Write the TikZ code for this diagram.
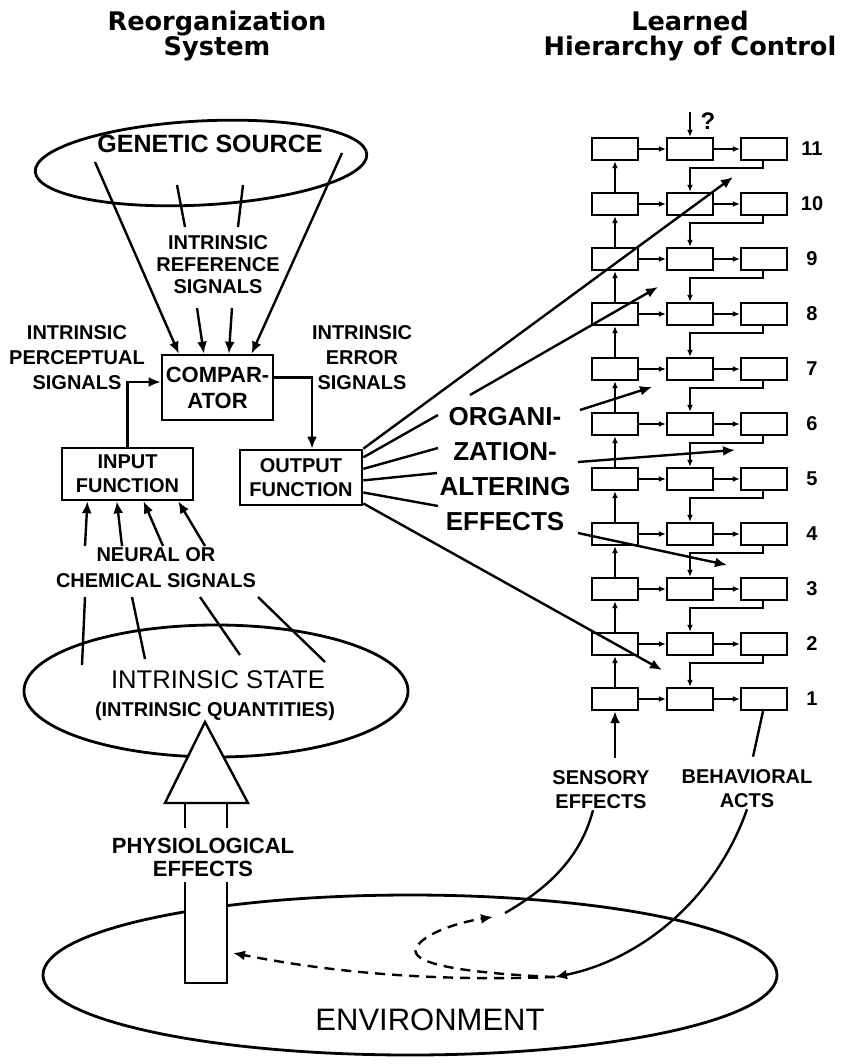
\documentclass[tikz,border=0pt]{standalone}
\usepackage{fontspec}
\setmainfont{Liberation Sans}
\newfontfamily\headfam{DejaVu Sans}
\usetikzlibrary{arrows.meta,shapes.geometric,calc}

\newcommand\labfont{\fontsize{10}{12}\selectfont\bfseries}
\newcommand\headfont{\headfam\fontsize{12.8}{12.8}\selectfont\bfseries}
\newcommand\genfont{\fontsize{12.5}{15}\selectfont\bfseries}
\newcommand\compfont{\fontsize{11}{13}\selectfont\bfseries}
\newcommand\orgfont{\fontsize{13}{17.5}\selectfont\bfseries}
\newcommand\statefont{\fontsize{12.8}{15}\selectfont}
\newcommand\envfont{\fontsize{15.5}{18}\selectfont}

\begin{document}
\begin{tikzpicture}[x=0.5pt,y=-0.5pt,line width=1.2pt,
    arr/.style={-{Latex[length=6pt,width=5pt]}},
    sarr/.style={-{Latex[length=3.5pt,width=3pt]},line width=0.8pt},
    lbl/.style={align=center,inner sep=0pt,font=\labfont},
    fbox/.style={draw,line width=1.3pt,align=center,inner sep=0pt,font=\labfont},
    hbox/.style={draw,line width=1.2pt,minimum width=23pt,minimum height=11pt,inner sep=0pt},
    oval/.style={draw,ellipse,line width=1.4pt,inner sep=0pt},
    dashline/.style={dash pattern=on 5pt off 3.5pt}]
    \useasboundingbox (0,0) rectangle (849,1064);

    \node[lbl,font=\headfont] (reorg) at (217,36) {Reorganization\\System};
    \node[lbl,font=\headfont] (learned) at (690,36) {Learned\\Hierarchy of Control};

    % reorganization system
    \node[oval,minimum width=166pt,minimum height=42pt,rotate=3] (gen) at (201,163) {};
    \node[lbl,font=\genfont] (gentxt) at (210,144) {GENETIC SOURCE};
    \node[lbl,font=\fontsize{10}{11}\selectfont\bfseries] (refsig) at (218,265) {INTRINSIC\\REFERENCE\\SIGNALS};
    \node[fbox,font=\compfont,minimum width=55.5pt,minimum height=32.5pt] (comp) at (217.5,387.5) {COMPAR-\\ATOR};
    \node[lbl,font=\fontsize{10}{12.5}\selectfont\bfseries] (perc) at (77,358) {INTRINSIC\\PERCEPTUAL\\SIGNALS};
    \node[lbl,font=\fontsize{10}{12.5}\selectfont\bfseries] (err) at (362,358) {INTRINSIC\\ERROR\\SIGNALS};
    \node[fbox,minimum width=65.5pt,minimum height=26pt] (inp) at (127.5,474) {INPUT\\FUNCTION};
    \node[fbox,minimum width=61pt,minimum height=27.5pt] (out) at (301,477.5) {OUTPUT\\FUNCTION};
    \node[lbl,font=\fontsize{10}{13}\selectfont\bfseries] (neural) at (156,568) {NEURAL OR\\CHEMICAL SIGNALS};

    \coordinate (g1) at (95,162);
    \coordinate (g2) at (177,185);
    \coordinate (g3) at (243,185);
    \coordinate (g4) at (342,153);
    \coordinate (g2e) at (185,227);
    \coordinate (g3e) at (238,227);
    \coordinate (r1) at (197,308);
    \coordinate (r2) at (232,308);
    \draw (g2) -- (g2e);
    \draw (g3) -- (g3e);
    \draw[arr] (g1) -- ($(comp.north west)!0.16!(comp.north east)$);
    \draw[arr] (r1) -- ($(comp.north west)!0.38!(comp.north east)$);
    \draw[arr] (r2) -- ($(comp.north west)!0.6!(comp.north east)$);
    \draw[arr] (g4) -- ($(comp.north west)!0.8!(comp.north east)$);
    \draw[arr] (inp.north) |- ([yshift=2.75pt]comp.west);
    \draw[arr] ([yshift=5pt]comp.east) -| ([xshift=5.5pt]out.north);

    \foreach \i/\t/\f in {1/85/0.2,2/122/0.42,3/163/0.62,4/205/0.88}{
        \coordinate (ns\i) at (\t,546);
        \draw[arr] (ns\i) -- ($(inp.south west)!\f!(inp.south east)$);
    }

    % intrinsic state
    \node[oval,minimum width=192pt,minimum height=66pt] (state) at (216,691) {};
    \node[lbl,font=\statefont] (statetxt) at (218,680) {INTRINSIC STATE};
    \node[lbl] (qty) at (215,711) {(INTRINSIC QUANTITIES)};
    \foreach \i/\a/\b/\c in {1/82/665/85,2/145/659/132,3/240/655/200,4/325/662/258}{
        \coordinate (sa\i) at (\a,\b);
        \coordinate (sb\i) at (\c,597);
        \draw (sa\i) -- (sb\i);
    }
    \draw[fill=white] (165,803) -- (205,722) -- (248,803) -- cycle;
    \draw (185,803) -- (185,828) (227,803) -- (227,828);
    \node[lbl,font=\fontsize{11}{11.5}\selectfont\bfseries] (phys) at (203,857) {PHYSIOLOGICAL\\EFFECTS};

    % environment
    \node[oval,minimum width=367pt,minimum height=80pt] (env) at (410,975) {};
    \filldraw[fill=white] (185,882) -- (185,983) -- (227,983) -- (227,882);
    \node[lbl,font=\envfont] (envtxt) at (430,1020) {ENVIRONMENT};

    % learned hierarchy
    \foreach \k in {1,...,11}{
        \pgfmathsetmacro\yy{699-(\k-1)*55}
        \node[hbox] (a\k) at (615,\yy) {};
        \node[hbox] (b\k) at (690,\yy) {};
        \node[hbox] (c\k) at (764,\yy) {};
        \node[lbl] (lv\k) at (812,\yy) {\k};
        \draw[sarr] (a\k) -- (b\k);
        \draw[sarr] (b\k) -- (c\k);
    }
    \foreach \k [count=\j from 2] in {1,...,10}{
        \draw[sarr] (a\k) -- (a\j);
        \draw[sarr] ([xshift=-0.5pt]c\j.south) -- ++(0,7) -| (b\k.north);
    }
    \coordinate (qtop) at (690,112);
    \draw[sarr] (qtop) -- (b11.north);
    \node[lbl,font=\fontsize{12}{12}\selectfont\bfseries] (q) at (708,121) {?};

    \node[lbl] (sens) at (601,790) {SENSORY\\EFFECTS};
    \node[lbl] (beh) at (747,789) {BEHAVIORAL\\ACTS};
    \draw[arr] ($(a1.south |- sens.north)+(0,-12)$) -- (a1.south);
    \draw ([xshift=-0.5pt]c1.south) -- ($(beh.north)+(6,-12)$);

    % organization-altering effects
    \node[lbl,font=\orgfont] (org) at (505,469) {ORGANI-\\ZATION-\\ALTERING\\EFFECTS};
    \coordinate (o1) at (438,415);
    \coordinate (o2) at (438,448);
    \coordinate (o3) at (437,473);
    \coordinate (o4) at (438,506);
    \coordinate (e1) at (470,395);
    \coordinate (e2) at (580,410);
    \coordinate (e3) at (578,462);
    \coordinate (e4) at (578,533);
    \coordinate (t1) at (733,177);
    \coordinate (t2) at (658,287);
    \coordinate (t3) at (652,387);
    \coordinate (t4) at (735,450);
    \coordinate (t5) at (727,565);
    \coordinate (t6) at (662,670);
    \draw[arr] (out.north east) -- (t1);
    \foreach \f/\p in {0.15/o1,0.35/o2,0.55/o3,0.76/o4}
        \draw ($(out.north east)!\f!(out.south east)$) -- (\p);
    \draw[arr] ($(out.north east)!0.95!(out.south east)$) -- (t6);
    \draw[arr] (e1) -- (t2);
    \draw[arr] (e2) -- (t3);
    \draw[arr] (e3) -- (t4);
    \draw[arr] (e4) -- (t5);

    % feedback through the environment
    \coordinate (mix) at (555,977);
    \coordinate (hit) at (233,953);
    \coordinate (sensin) at (493,917);
    \coordinate (senstail) at (505,913);
    \draw[arr] (beh.south) .. controls (715,900) and (640,960) .. (mix);
    \draw[arr,dashline] (mix) .. controls (420,982) and (320,970) .. (hit);
    \draw[arr,dashline] (mix) .. controls (440,972) and (405,960) .. (418,945)
        .. controls (428,932) and (460,922) .. (sensin);
    \draw (senstail) .. controls (545,890) and (580,860) .. ([xshift=-4pt]sens.south);
\end{tikzpicture}
\end{document}
